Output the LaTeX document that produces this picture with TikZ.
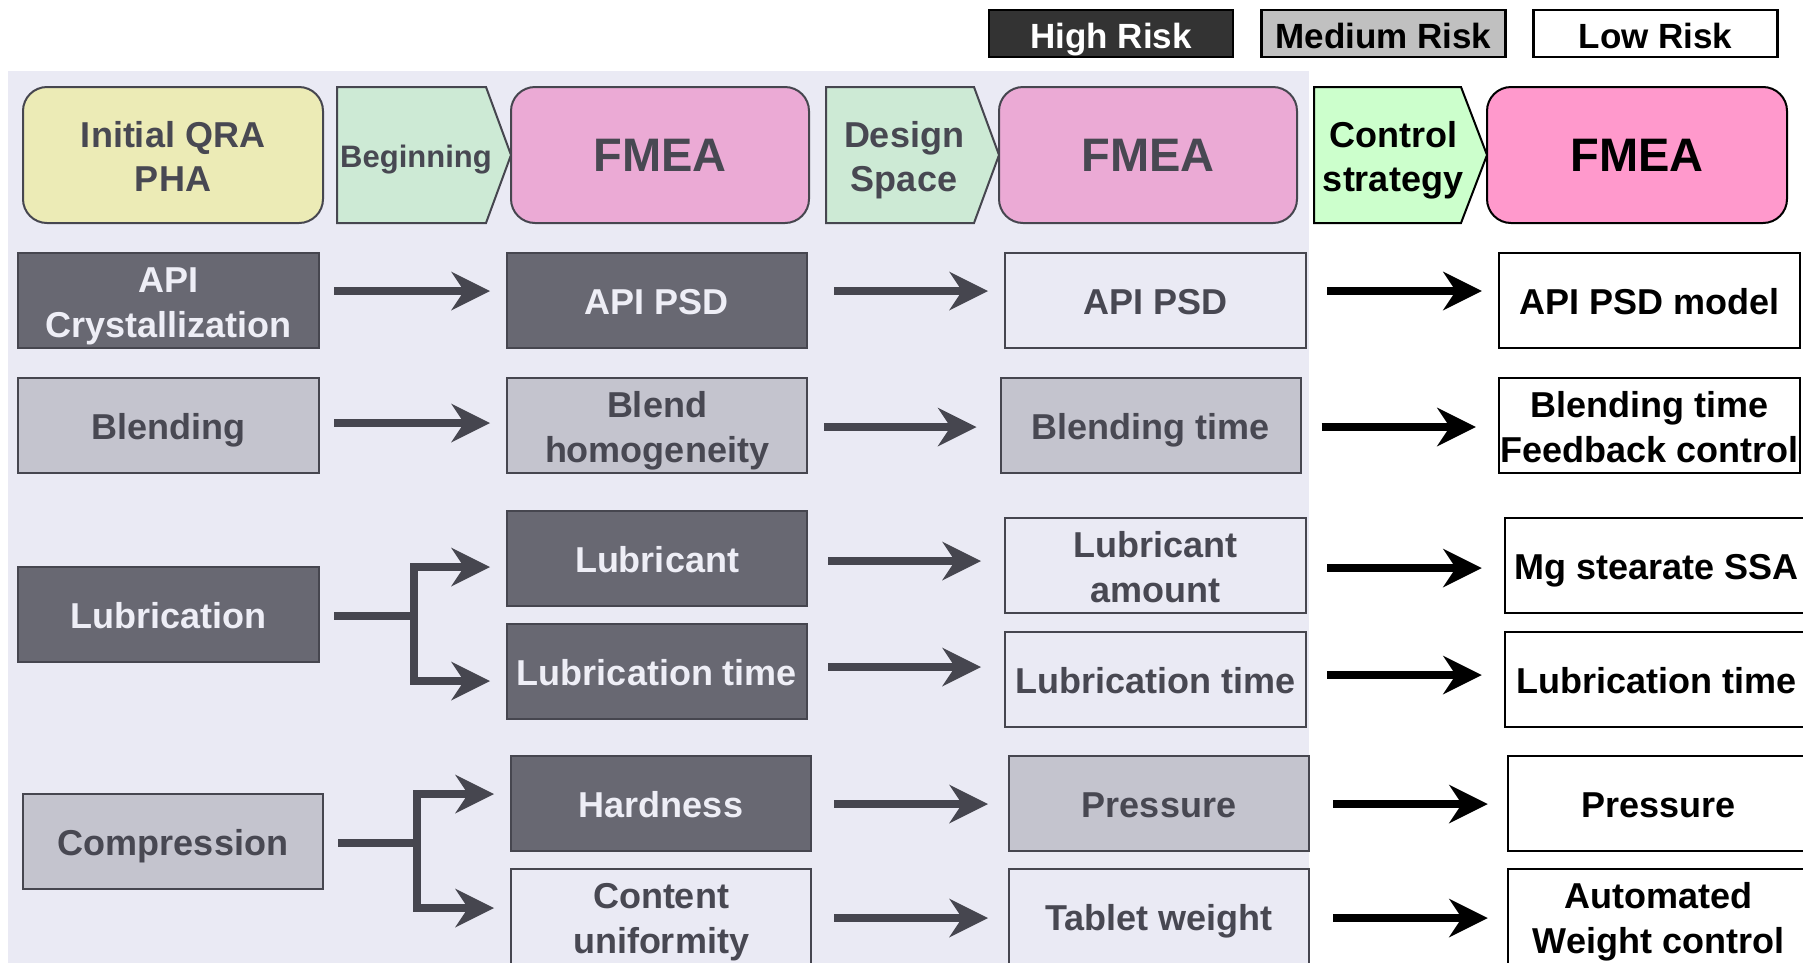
\documentclass[tikz,border=0pt]{standalone}
\usepackage{fontspec}
\setmainfont{Liberation Sans}
\usetikzlibrary{arrows.meta}

\definecolor{panel}{HTML}{EAEAF4}
\definecolor{edge}{HTML}{46464F}
\definecolor{ink}{HTML}{484852}
\definecolor{hifill}{HTML}{686872}
\definecolor{hitext}{HTML}{EEEEF6}
\definecolor{medfill}{HTML}{C4C4CE}
\definecolor{qrafill}{HTML}{ECEBB6}
\definecolor{chevfill}{HTML}{CDEAD5}
\definecolor{fmeafill}{HTML}{EBAAD5}
\definecolor{ctlchev}{HTML}{CCFFCC}
\definecolor{ctlfmea}{HTML}{FF99CC}
\definecolor{legdark}{HTML}{333333}
\definecolor{legmed}{HTML}{C0C0C0}

\newcommand\bxfont{\bfseries\fontsize{36}{45}\selectfont}
\newcommand\hdfont{\bfseries\fontsize{36}{44}\selectfont}
\newcommand\fmeafont{\bfseries\fontsize{47}{50}\selectfont}
\newcommand\legfont{\bfseries\fontsize{35}{40}\selectfont}
% strut that fixes the height of the first line of a two-line label
\newcommand\fl{\rule{0pt}{37pt}}

\begin{document}
\begin{tikzpicture}[x=1pt,y=-1pt,
  % fixed first-line height and last-line depth keep every label's baseline
  % at the same place relative to its box centre
  struts/.style 2 args={execute at begin node={\rule{0pt}{#1}},
    execute at end node={\rule[-#2]{0pt}{#2}}},
  base/.style={rectangle, draw, line width=2pt, inner sep=0pt, align=center,
    font=\bxfont, minimum width=300pt, minimum height=95pt, struts={37pt}{9pt}},
  hi/.style={base, fill=hifill, draw=edge, text=hitext},
  med/.style={base, fill=medfill, draw=edge, text=ink},
  lo/.style={base, fill=panel, draw=edge, text=ink},
  ctl/.style={base, fill=white, draw=black, text=black, line width=2.5pt},
  top/.style={rectangle, rounded corners=24pt, draw, line width=2pt,
    inner sep=0pt, align=center, minimum height=136pt},
  chev/.style={line width=2pt, line join=miter},
  chevtext/.style={inner sep=0pt, align=center, font=\hdfont, struts={37pt}{9pt}},
  leg/.style={rectangle, draw=black, line width=2.5pt, inner sep=0pt,
    minimum width=244pt, minimum height=47pt, font=\legfont, struts={38pt}{8pt}},
  arr/.style={line width=8pt, line join=miter,
    -{Stealth[length=39pt,width=39pt,inset=13pt,line width=0pt]}},
  pa/.style={arr, draw=edge},
  ka/.style={arr, draw=black}]

\useasboundingbox (0,0) rectangle (1803,962);
\clip (0,0) rectangle (1803,962);

% shaded area behind the first two assessment stages
\fill[panel] (8,71) rectangle (1309,970);

% legend
\node[leg, fill=legdark, text=white] (high) at (1111,33.5) {High Risk};
\node[leg, fill=legmed, text=black] (medium) at (1383.5,33.5) {Medium Risk};
\node[leg, fill=white, text=black] (low) at (1655.5,33.5) {Low Risk};

% header row
\node[top, fill=qrafill, draw=edge, text=ink, font=\hdfont, minimum width=300pt,
  struts={37pt}{9pt}] (qra) at (173,155) {\fl Initial QRA\\PHA};
\filldraw[chev, fill=chevfill, draw=edge]
  (337,87) -- (486,87) -- (511,155) -- (486,223) -- (337,223) -- cycle;
\node[chevtext, text=ink, font=\bfseries\fontsize{31}{36}\selectfont,
  struts={30pt}{12pt}] (beg) at (416,155) {Beginning};
\node[top, fill=fmeafill, draw=edge, text=ink, font=\fmeafont, minimum width=298pt]
  (fmeaA) at (660,155) {FMEA};
\filldraw[chev, fill=chevfill, draw=edge]
  (826,87) -- (974,87) -- (999,155) -- (974,223) -- (826,223) -- cycle;
\node[chevtext, text=ink] (design) at (904,155) {\fl Design\\Space};
\node[top, fill=fmeafill, draw=edge, text=ink, font=\fmeafont, minimum width=298pt]
  (fmeaB) at (1148,155) {FMEA};
\filldraw[chev, fill=ctlchev, draw=black]
  (1314,87) -- (1461,87) -- (1487,155) -- (1461,223) -- (1314,223) -- cycle;
\node[chevtext, text=black] (control) at (1393,155) {\fl Control\\strategy};
\node[top, fill=ctlfmea, draw=black, text=black, font=\fmeafont, minimum width=300pt]
  (fmeaC) at (1637,155) {FMEA};

% unit operations
\node[hi, minimum width=301pt] (apicr) at (168.5,300.5) {\fl API\\Crystallization};
\node[med, minimum width=301pt] (blending) at (168.5,425.5) {Blending};
\node[hi, minimum width=301pt] (lubrication) at (168.5,614.5) {Lubrication};
\node[med] (compression) at (173,841) {Compression};

% attributes after the first FMEA
\node[hi] (apipsd) at (657,300.5) {API PSD};
\node[med] (blendhom) at (657,425.5) {\fl Blend\\homogeneity};
\node[hi] (lubricant) at (657,558.5) {Lubricant};
\node[hi] (lubtimeA) at (657,671.5) {Lubrication time};
\node[hi] (hardness) at (661,803.5) {Hardness};
\node[lo] (content) at (661,916.5) {\fl Content\\uniformity};

% parameters after the second FMEA
\node[lo, minimum width=301pt] (apipsdB) at (1155.5,300.5) {API PSD};
\node[med] (blendtime) at (1150.5,425.5) {Blending time};
\node[lo, minimum width=301pt] (lubamt) at (1155.5,565.5) {\fl Lubricant\\amount};
\node[lo, minimum width=301pt] (lubtimeB) at (1155.5,679.5) {Lubrication time};
\node[med] (pressureA) at (1159,803.5) {Pressure};
\node[lo] (weight) at (1159,916.5) {Tablet weight};

% control strategy
\node[ctl, minimum width=301pt] (model) at (1649.5,300.5) {API PSD model};
\node[ctl, minimum width=301pt] (feedback) at (1649.5,425.5) {\fl Blending time\\Feedback control};
\node[ctl, minimum width=303pt] (mg) at (1656.5,565.5) {Mg stearate SSA};
\node[ctl, minimum width=303pt] (lubtimeC) at (1656.5,679.5) {Lubrication time};
\node[ctl, minimum width=301pt] (pressureB) at (1658.5,803.5) {Pressure};
\node[ctl, minimum width=301pt] (auto) at (1658.5,916.5) {\fl Automated\\Weight control};

% unit operation -> attribute
\draw[pa, shorten <=14pt, shorten >=16pt]
  ([yshift=9.5pt]apicr.east) -- ([yshift=9.5pt]apicr.east -| apipsd.west);
\draw[pa, shorten <=14pt, shorten >=16pt]
  ([yshift=2.5pt]blending.east) -- ([yshift=2.5pt]blending.east -| blendhom.west);
\draw[pa, shorten <=14pt, shorten >=16pt]
  ([yshift=-1.5pt]lubrication.east) -- ++(94,0) |- ([yshift=-8.5pt]lubricant.west);
\draw[pa, shorten <=14pt, shorten >=16pt]
  ([yshift=-1.5pt]lubrication.east) -- ++(94,0) |- ([yshift=-9.5pt]lubtimeA.west);
\draw[pa, shorten <=14pt, shorten >=16pt]
  ([yshift=-2pt]compression.east) -- ++(93,0) |- ([yshift=9.5pt]hardness.west);
\draw[pa, shorten <=14pt, shorten >=16pt]
  ([yshift=-2pt]compression.east) -- ++(93,0) |- ([yshift=8.5pt]content.west);

% attribute -> parameter
\draw[pa, shorten <=26pt, shorten >=16pt]
  ([yshift=9.5pt]apipsd.east) -- ([yshift=9.5pt]apipsd.east -| apipsdB.west);
\draw[pa, shorten <=16pt, shorten >=23pt]
  ([yshift=-1.5pt]blendhom.east) -- ([yshift=-1.5pt]blendhom.east -| blendtime.west);
\draw[pa, shorten <=20pt, shorten >=23pt]
  ([yshift=-2.5pt]lubricant.east) -- ([yshift=-2.5pt]lubricant.east -| lubamt.west);
\draw[pa, shorten <=20pt, shorten >=23pt]
  ([yshift=4.5pt]lubtimeA.east) -- ([yshift=4.5pt]lubtimeA.east -| lubtimeB.west);
\draw[pa, shorten <=22pt, shorten >=20pt]
  ([yshift=-0.5pt]hardness.east) -- ([yshift=-0.5pt]hardness.east -| pressureA.west);
\draw[pa, shorten <=22pt, shorten >=20pt]
  ([yshift=-1.5pt]content.east) -- ([yshift=-1.5pt]content.east -| weight.west);

% parameter -> control
\draw[ka, shorten <=20pt, shorten >=16pt]
  ([yshift=9.5pt]apipsdB.east) -- ([yshift=9.5pt]apipsdB.east -| model.west);
\draw[ka, shorten <=20pt, shorten >=22pt]
  ([yshift=-1.5pt]blendtime.east) -- ([yshift=-1.5pt]blendtime.east -| feedback.west);
\draw[ka, shorten <=20pt, shorten >=22pt]
  ([yshift=-2.5pt]lubamt.east) -- ([yshift=-2.5pt]lubamt.east -| mg.west);
\draw[ka, shorten <=20pt, shorten >=22pt]
  ([yshift=4.5pt]lubtimeB.east) -- ([yshift=4.5pt]lubtimeB.east -| lubtimeC.west);
\draw[ka, shorten <=23pt, shorten >=19pt]
  ([yshift=-0.5pt]pressureA.east) -- ([yshift=-0.5pt]pressureA.east -| pressureB.west);
\draw[ka, shorten <=23pt, shorten >=19pt]
  ([yshift=-1.5pt]weight.east) -- ([yshift=-1.5pt]weight.east -| auto.west);
\end{tikzpicture}
\end{document}
